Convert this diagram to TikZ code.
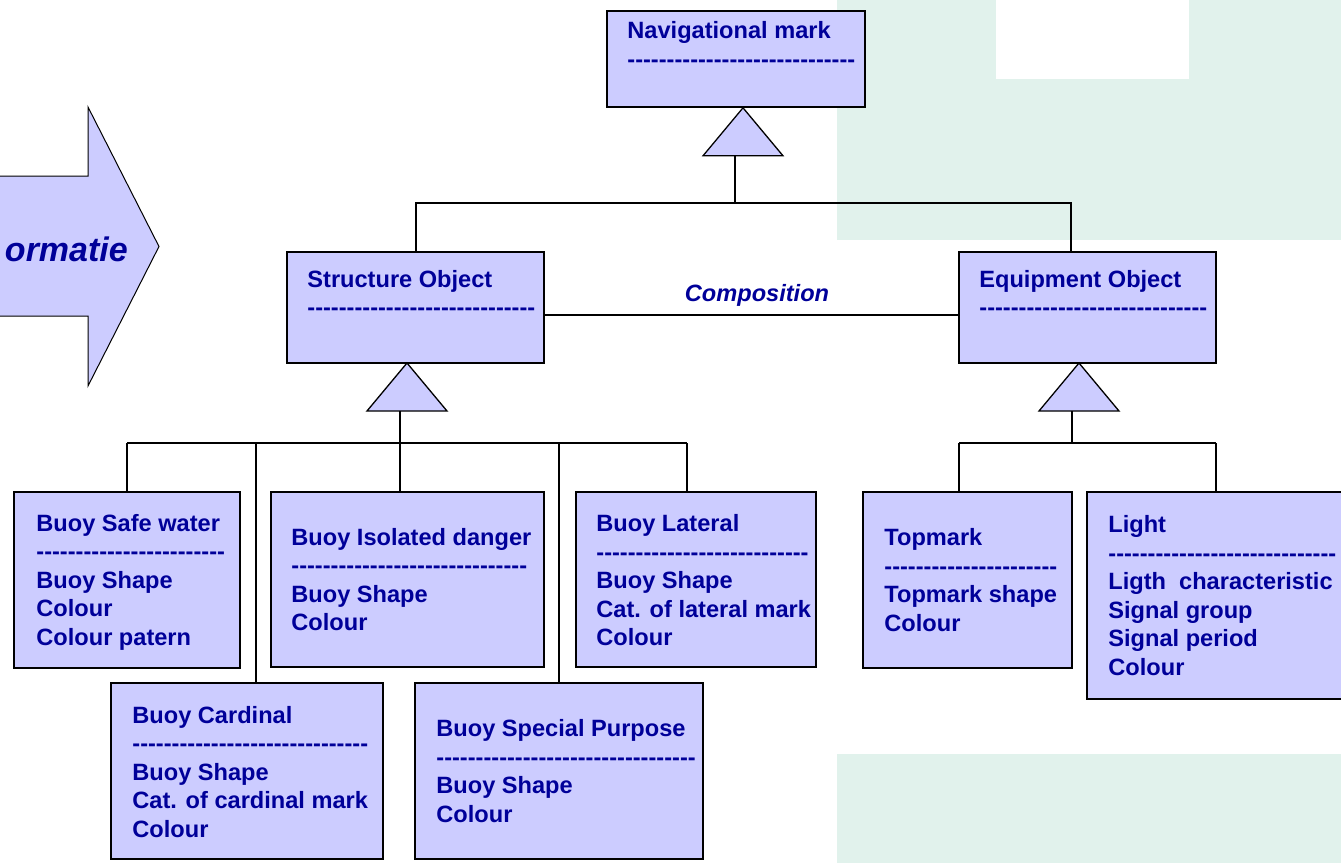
\documentclass[tikz,border=0pt]{standalone}
\usepackage{fontspec}
\setmainfont{Liberation Sans}
\ExplSyntaxOn
% a row of plain hyphens, kept apart so they never join into dashes
\NewDocumentCommand\dashrow{m}{\prg_replicate:nn{#1}{-\kern0pt}}
\ExplSyntaxOff
\definecolor{boxfill}{HTML}{CCCCFF}
\definecolor{ink}{HTML}{000099}
\definecolor{mint}{HTML}{E1F2EC}
\newcommand\umlfont{\fontsize{23.6pt}{28.5pt}\selectfont\bfseries}

\tikzset{
  umlbox/.style 2 args={draw=black, fill=boxfill, line width=1.6pt, rectangle,
    inner sep=0pt, minimum width=#1pt, minimum height=#2pt},
  umltext/.style={anchor=west, inner sep=0pt, align=left, font=\umlfont, text=ink},
  link/.style={draw=black, line width=1.3pt},
  comp/.style={draw=black, line width=2.6pt},
  gentri/.style={draw=black, fill=boxfill, line width=1.3pt, line join=miter},
  blockarrow/.style={draw=black, fill=boxfill, line width=1pt, line join=miter},
}

\begin{document}
\begin{tikzpicture}[x=1pt,y=-1pt]
\useasboundingbox (0,0) rectangle (1341,863);
\begin{scope}
\clip (0,0) rectangle (1341,863);

% background panels
\fill[mint] (837,0) rectangle (1341,240);
\fill[white] (996,0) rectangle (1189,79);
\fill[mint] (837,754) rectangle (1341,863);

% block arrow on the left
\path[blockarrow] (-60,176) -- (88,176) -- (88,107) -- (159,246.5) -- (88,386)
  -- (88,316) -- (-60,316) -- cycle;
\node[anchor=east, inner sep=0pt, text=ink, font=\fontsize{34pt}{40pt}\selectfont\bfseries\itshape]
  (info) at (128,249) {ormatie};

% class boxes
\node[umlbox={258}{96}]  (nav)    at (736,59)      {};
\node[umlbox={257}{111}] (struct) at (415.5,307.5) {};
\node[umlbox={257}{111}] (equip)  at (1087.5,307.5){};
\node[umlbox={226}{176}] (safe)   at (127,580)     {};
\node[umlbox={273}{175}] (iso)    at (407.5,579.5) {};
\node[umlbox={240}{175}] (lat)    at (696,579.5)   {};
\node[umlbox={272}{176}] (card)   at (247,771)     {};
\node[umlbox={288}{176}] (spec)   at (559,771)     {};
\node[umlbox={209}{176}] (top)    at (967.5,580)   {};
\node[umlbox={265}{207}] (light)  at (1219.5,595.5){};

% class texts
\node[umltext] (nav-t) at ([xshift=21pt,yshift=-4pt]nav.west)
  {Navigational mark\\\dashrow{29}\\\strut};
\node[umltext] (struct-t) at ([xshift=21pt,yshift=-4pt]struct.west)
  {Structure Object\\\dashrow{29}\\\strut};
\node[umltext] (equip-t) at ([xshift=21pt,yshift=-4pt]equip.west)
  {Equipment Object\\\dashrow{29}\\\strut};
\node[umltext] (safe-t) at ([xshift=23pt,yshift=-2pt]safe.west)
  {Buoy Safe water\\\dashrow{24}\\Buoy Shape\\Colour\\Colour patern};
\node[umltext] (iso-t) at ([xshift=21pt]iso.west)
  {Buoy Isolated danger\\\dashrow{30}\\Buoy Shape\\Colour};
\node[umltext] (lat-t) at ([xshift=21pt,yshift=-1pt]lat.west)
  {Buoy Lateral\\\dashrow{27}\\Buoy Shape\\Cat. of lateral mark\\Colour};
\node[umltext] (card-t) at ([xshift=22pt,yshift=-1pt]card.west)
  {Buoy Cardinal\\\dashrow{30}\\Buoy Shape\\Cat. of cardinal mark\\Colour};
\node[umltext] (spec-t) at ([xshift=22pt]spec.west)
  {Buoy Special Purpose\\\dashrow{33}\\Buoy Shape\\Colour};
\node[umltext] (top-t) at ([xshift=22pt]top.west)
  {Topmark\\\dashrow{22}\\Topmark shape\\Colour};
\node[umltext] (light-t) at ([xshift=22pt]light.west)
  {Light\\\dashrow{29}\\Ligth~~characteristic\\Signal group\\Signal period\\Colour};

% generalisation: Navigational mark
\coordinate (navapex) at ([xshift=7pt]nav.south);
\path[gentri] (navapex) -- ++(-40,48) -- ++(80,0) -- cycle;
\coordinate (navstem) at (735,155);
\coordinate (busL) at (416,203);
\coordinate (busR) at (1071,203);
\draw[link] (navstem) -- (navstem |- busL);
\draw[link] (busL |- struct.north) -- (busL) -- (busR) -- (busR |- equip.north);

% composition
\coordinate (compy) at (0,315);
\draw[comp] (struct.east |- compy) -- (equip.west |- compy);
\node[inner sep=0pt, text=ink, font=\fontsize{23.6pt}{28.5pt}\selectfont\bfseries\itshape]
  (complabel) at (757,295) {Composition};

% generalisation: Structure Object
\coordinate (sapex) at (407,363);
\path[gentri] (sapex) -- ++(-40,48) -- ++(80,0) -- cycle;
\coordinate (sstem) at (400,411);
\coordinate (sbus) at (400,443);
\coordinate (d1) at (127,443);
\coordinate (d2) at (256,443);
\coordinate (d4) at (559,443);
\coordinate (d5) at (687,443);
\draw[link] (sstem) -- (sbus);
\draw[link] (d1) -- (d5);
\draw[link] (d1) -- (d1 |- safe.north);
\draw[link] (d2) -- (d2 |- card.north);
\draw[link] (sbus) -- (sbus |- iso.north);
\draw[link] (d4) -- (d4 |- spec.north);
\draw[link] (d5) -- (d5 |- lat.north);

% generalisation: Equipment Object
\coordinate (eapex) at (1079,363);
\path[gentri] (eapex) -- ++(-40,48) -- ++(80,0) -- cycle;
\coordinate (estem) at (1072,411);
\coordinate (ebus) at (1072,443);
\coordinate (e1) at (959,443);
\coordinate (e2) at (1216,443);
\draw[link] (estem) -- (ebus);
\draw[link] (e1) -- (e2);
\draw[link] (e1) -- (e1 |- top.north);
\draw[link] (e2) -- (e2 |- light.north);
\end{scope}
\end{tikzpicture}
\end{document}
